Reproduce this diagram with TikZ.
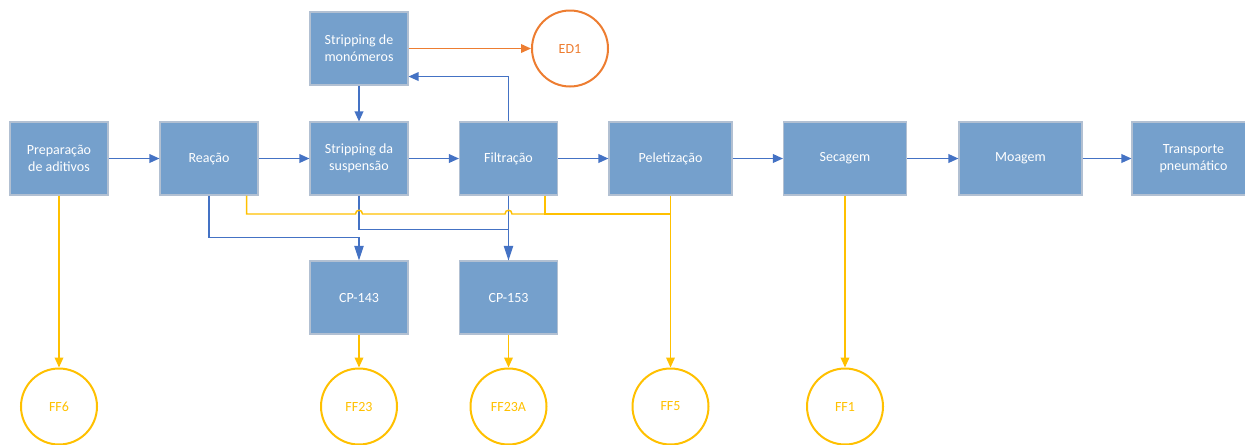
\documentclass[tikz,border=0pt]{standalone}
\usepackage{fontspec}
\setmainfont{Carlito}
\usetikzlibrary{arrows.meta,calc}
\definecolor{boxfill}{RGB}{117,160,204}
\definecolor{boxline}{RGB}{178,192,210}
\definecolor{flowblue}{RGB}{68,114,196}
\definecolor{flowyellow}{RGB}{255,192,0}
\definecolor{floworange}{RGB}{237,125,49}
\tikzset{
    proc/.style={draw=boxline, line width=0.8pt, fill=boxfill, text=white, align=center,
        minimum width=73.5pt, minimum height=54.75pt, inner sep=1pt},
    wideproc/.style={proc, minimum width=92.25pt},
    sink/.style={circle, draw=#1, text=#1, line width=1.5pt, minimum size=57pt, inner sep=0pt},
    barrow/.style={draw=flowblue, line width=1pt, -{Triangle[length=7.5pt,width=6.5pt]}},
    blongarrow/.style={draw=flowblue, line width=1pt, -{Triangle[length=11pt,width=7pt]}},
    bline/.style={draw=flowblue, line width=1pt},
    yarrow/.style={draw=flowyellow, line width=1.1pt, -{Triangle[length=7.5pt,width=6.5pt]}},
    yline/.style={draw=flowyellow, line width=1.1pt},
    oarrow/.style={draw=floworange, line width=1.1pt, -{Triangle[length=7.5pt,width=6.5pt]}}
}
\begin{document}
\begin{tikzpicture}[x=0.75pt, y=-0.75pt, font=\fontsize{10.5}{12.8}\selectfont]
    \useasboundingbox (0,0) rectangle (1245,444);
    \node[proc] (prep) at (59,158.5) {Preparação\\de aditivos};
    \node[proc] (reacao) at (209,158.5) {Reação};
    \node[proc] (susp) at (359,158.5) {Stripping da\\suspensão};
    \node[proc] (filtr) at (508.5,158.5) {Filtração};
    \node[wideproc] (pelet) at (670.5,158.5) {Peletização};
    \node[wideproc] (secagem) at (845,158.5) {Secagem};
    \node[wideproc] (moagem) at (1020.5,158.5) {Moagem};
    \node[wideproc] (transp) at (1193.5,158.5) {Transporte\\pneumático};
    \node[proc] (monom) at (359,48.5) {Stripping de\\monómeros};
    \node[proc] (cp143) at (359,297.5) {CP-143};
    \node[proc] (cp153) at (508.5,297.5) {CP-153};
    \node[sink=floworange] (ed1) at (570,48.5) {ED1};
    \node[sink=flowyellow] (ff6) at (59,406.5) {FF6};
    \node[sink=flowyellow] (ff23) at (359,406.5) {FF23};
    \node[sink=flowyellow] (ff23a) at (508.5,406.5) {FF23A};
    \node[sink=flowyellow] (ff5) at (670.5,406.5) {FF5};
    \node[sink=flowyellow] (ff1) at (845,406.5) {FF1};
    \coordinate (ybus) at (0,214);

    \foreach \a/\b in {prep/reacao, reacao/susp, susp/filtr, filtr/pelet, pelet/secagem, secagem/moagem, moagem/transp}
        \draw[barrow] (\a) -- (\b);
    \draw[barrow] (monom) -- (susp);
    \draw[oarrow] (monom) -- (ed1);
    \draw[barrow] (filtr.north) |- ($(monom.south east)+(0,-9)$);
    \draw[blongarrow] (reacao.south) -- ++(0,42) -| (cp143.north);
    \draw[bline] (susp.south) -- ++(0,34) -| (cp153.north);
    \draw[blongarrow] (filtr) -- (cp153);

    \draw[yline] ($(reacao.south east)+(-12,0)$) |- ($(susp.south|-ybus)+(-3.5,0)$)
        .. controls +(0,-5) and +(0,-5) .. ++(7,0) -- ($(filtr.south|-ybus)+(-3.5,0)$)
        .. controls +(0,-5) and +(0,-5) .. ++(7,0) -- (pelet.south|-ybus);
    \draw[yline] ($(filtr.south east)+(-13,0)$) |- (pelet.south|-ybus);
    \foreach \a/\b in {prep/ff6, cp143/ff23, cp153/ff23a, pelet/ff5, secagem/ff1}
        \draw[yarrow] (\a) -- (\b);
\end{tikzpicture}
\end{document}
